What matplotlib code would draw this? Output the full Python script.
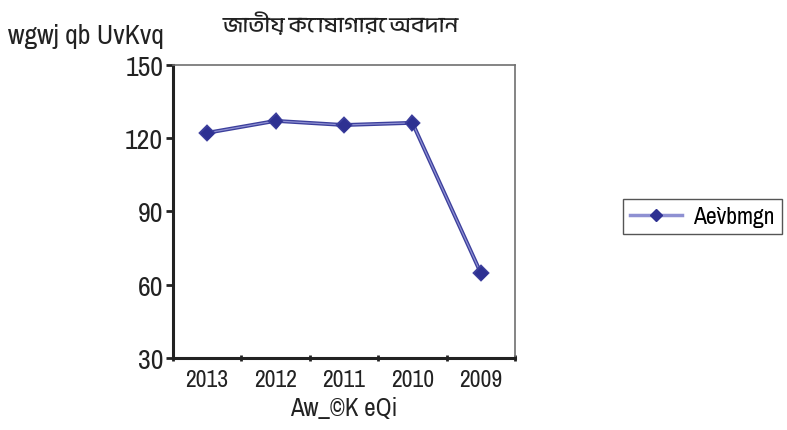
import matplotlib
matplotlib.use("Agg")
import matplotlib.pyplot as plt
import matplotlib.patheffects as pe
from matplotlib import font_manager

years = ["2013", "2012", "2011", "2010", "2009"]
values = [122.2, 127.1, 125.4, 126.3, 64.8]
yticks = [30, 60, 90, 120, 150]
title = "জাতীয় কোষাগারে অবদান"
ylabel = "wgwj qb UvKvq"
xlabel = "Aw_©K eQi"
series_name = "Ae`vbmgn"

fonts = font_manager.fontManager.ttflist
names = sorted({f.name for f in fonts})
narrow_cands = [f.name for f in fonts if "Narrow" in f.name or "Condensed" in f.name]
cond_stretch = any(f.name == "DejaVu Sans" and f.stretch in ("condensed", "semi-condensed") for f in fonts)
if narrow_cands:
    NF = dict(family=[narrow_cands[0], "DejaVu Sans"])
elif cond_stretch:
    NF = dict(family="DejaVu Sans", stretch="condensed")
else:
    NF = dict(family="Liberation Sans")
beng = [n for n in names if "Bengali" in n or "Bangla" in n or "Lohit" in n or "FreeSans" in n]
title_family = beng + ["DejaVu Sans"]

fig = plt.figure(figsize=(7.87, 4.31), dpi=100)
ax = fig.add_axes([0.2198, 0.167, 0.4346, 0.680])

x = list(range(len(years)))
line, = ax.plot(x, values, color="#8E90D2", lw=0.9, marker="D", ms=6,
                mfc="#2E3192", mec="#2E3192", zorder=3,
                path_effects=[pe.Stroke(linewidth=2.8, foreground="#3C3F9C"), pe.Normal()])

ax.set_xlim(-0.5, len(years) - 0.5)
ax.set_ylim(30, 150)
ax.set_yticks(yticks)
ax.set_yticklabels([str(v) for v in yticks], fontsize=20, color="#222222", **NF)
ax.set_xticks(x)
ax.set_xticklabels(years, fontsize=17, color="#222222", **NF)
ax.set_xticks([i - 0.5 for i in range(len(years) + 1)], minor=True)
ax.tick_params(axis="x", which="major", length=0, pad=8)
ax.tick_params(axis="x", which="minor", length=4, width=2, direction="inout", color="#222222")
ax.tick_params(axis="y", length=5, width=2, direction="out", color="#222222", pad=2)

for s in ["left", "bottom"]:
    ax.spines[s].set_linewidth(2.2)
    ax.spines[s].set_color("#222222")
for s in ["top", "right"]:
    ax.spines[s].set_linewidth(1.2)
    ax.spines[s].set_color("#707070")

ax.set_xlabel(xlabel, fontsize=18, color="#222222", labelpad=4, **NF)
fig.text(0.010, 0.915, ylabel, fontsize=20, color="#222222", ha="left", va="center", **NF)
fig.text(0.433, 0.945, title, fontsize=16, family=title_family, color="#222222", ha="center", va="center")

prop = font_manager.FontProperties(size=17, **NF)
leg = fig.legend([line], [series_name], loc="center left", bbox_to_anchor=(0.776, 0.495),
                 frameon=True, fancybox=False, edgecolor="#555555", framealpha=1,
                 prop=prop, handlelength=2.2, borderpad=0.3, handletextpad=0.5)
leg.get_frame().set_linewidth(1.0)
for h in leg.legend_handles:
    h.set_path_effects([])
    h.set_color("#8E90D2")
    h.set_linewidth(2.5)
    h.set_markersize(6)
    h.set_markerfacecolor("#2E3192")
    h.set_markeredgecolor("#2E3192")

fig.savefig("out.png", dpi=100)
